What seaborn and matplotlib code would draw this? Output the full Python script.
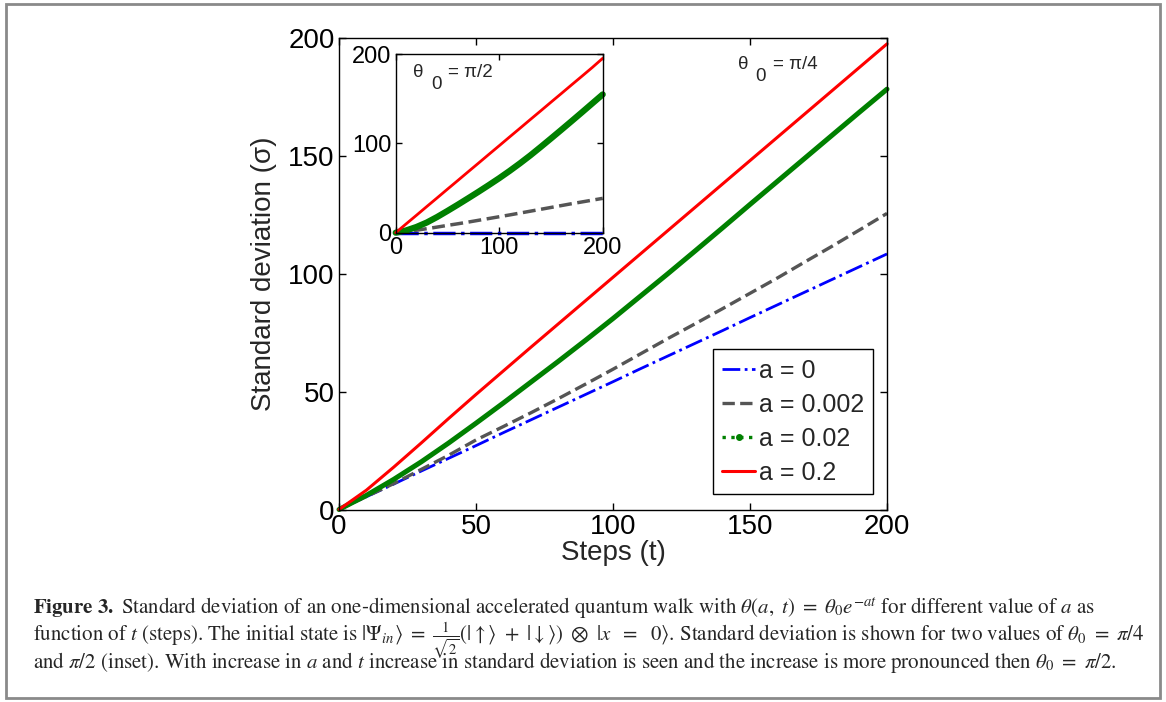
import matplotlib
matplotlib.use('Agg')
import matplotlib.pyplot as plt
import seaborn as sns
from matplotlib.lines import Line2D
from matplotlib.patches import Rectangle

# main panel, theta0 = pi/4
t_main = [0, 10, 20, 30, 40, 50, 60, 70, 80, 90, 100, 110, 120, 130, 140, 150, 160, 170, 180, 190, 200]
blue_main = [0, 5.4, 10.8, 16.3, 21.7, 27.1, 32.6, 38, 43.4, 48.8, 54.2, 59.7, 65.1, 70.5, 75.9, 81.4, 86.8, 92.2, 97.6, 103, 108.4]
gray_main = [0, 5.5, 11, 17, 23, 29.5, 35.2, 41, 47, 53.2, 59.5, 66, 72.5, 78.8, 85.2, 91.7, 98.2, 105, 111.7, 118.6, 125.6]
green_main = [0, 6, 12.8, 20.2, 28.2, 36.6, 45.2, 54, 62.8, 71.8, 81, 90.5, 100, 109.7, 119.5, 129.4, 139.2, 149, 158.8, 168.6, 178.3]
red_main = [0, 8.2, 18, 28.2, 38.6, 48.8, 58.8, 68.8, 78.7, 88.6, 98.5, 108.4, 118.3, 128.2, 138.1, 148, 157.9, 167.8, 177.7, 187.6, 197.5]

# inset, theta0 = pi/2
t_in = [0, 10, 20, 30, 40, 50, 60, 70, 80, 90, 100, 110, 120, 130, 140, 150, 160, 170, 180, 190, 200]
blue_in = [0] * 21
gray_in = [0, 1.2, 2.8, 4.5, 6.3, 8.2, 10, 11.9, 13.9, 15.9, 17.9, 19.9, 22, 24.1, 26.2, 28.3, 30.4, 32.5, 34.5, 36.5, 38.5]
green_in = [0, 2.5, 6.4, 11.4, 17.6, 24.4, 31.4, 38.6, 45.9, 53.4, 61.1, 69.2, 77.7, 86.6, 96, 105.6, 115.3, 125.1, 135, 145, 155]
red_in = [0, 9.8, 19.5, 29.3, 39, 48.8, 58.5, 68.3, 78, 87.8, 97.5, 107.3, 117, 126.8, 136.5, 146.3, 156, 165.8, 175.5, 185.3, 195.5]

labels = ['a = 0', 'a = 0.002', 'a = 0.02', 'a = 0.2']
colors = ['#0000ff', '#555555', '#008000', '#ff0000']

sns.set_style('ticks')
plt.rcParams['font.family'] = ['Liberation Sans', 'DejaVu Sans']
plt.rcParams['lines.solid_joinstyle'] = 'round'

fig = plt.figure(figsize=(11.66, 7.02), dpi=100)

# grey frame around the whole figure
fig.patches.append(Rectangle((6 / 1166, 4 / 702), 1154 / 1166, 694 / 702, transform=fig.transFigure,
                             fill=False, edgecolor='#8a8a8a', linewidth=2))


def style_axes(ax, size, ticklen):
    ax.set_xlim(0, 200)
    ax.set_ylim(0, 200)
    ax.tick_params(direction='in', top=True, right=True, length=ticklen, width=1,
                   labelsize=size, pad=3, colors='black')
    for s in ax.spines.values():
        s.set_color('black')
        s.set_linewidth(1)
    ax.set_facecolor('white')


def theta_label(ax, x, y, rest):
    # "θ", then the lowered "0", then the rest, like the MATLAB text
    ax.text(x, y, 'θ', fontsize=13.5, va='baseline')
    ax.annotate('0', xy=(x, y), xytext=(12.8, -8.6), textcoords='offset points', fontsize=13.5, va='baseline')
    ax.annotate(rest, xy=(x, y), xytext=(25.5, 0), textcoords='offset points', fontsize=13.5, va='baseline')


ax = fig.add_axes([339 / 1166, 1 - 509.5 / 702, 548 / 1166, 471.5 / 702])
sns.lineplot(x=t_main, y=blue_main, ax=ax, color=colors[0], linestyle='-.', linewidth=2, clip_on=False)
sns.lineplot(x=t_main, y=gray_main, ax=ax, color=colors[1], linestyle='--', linewidth=2.4, clip_on=False)
sns.lineplot(x=t_main, y=green_main, ax=ax, color=colors[2], linestyle='-', linewidth=3.6, clip_on=False)
sns.lineplot(x=t_main, y=red_main, ax=ax, color=colors[3], linestyle='-', linewidth=2.2, clip_on=False)
style_axes(ax, 20, 5)
ax.set_xticks([0, 50, 100, 150, 200])
ax.set_yticks([0, 50, 100, 150, 200])
ax.set_xlabel('Steps (t)', fontsize=20, labelpad=0)
ax.set_ylabel('Standard deviation (σ)', fontsize=20, labelpad=8)
theta_label(ax, 145.5, 187, '= π/4')

handles = [
    Line2D([], [], color=colors[0], linestyle='-.', linewidth=2),
    Line2D([], [], color=colors[1], linestyle='--', linewidth=2.4),
    Line2D([], [], color=colors[2], linestyle=':', linewidth=2.4, marker='o', markersize=4),
    Line2D([], [], color=colors[3], linestyle='-', linewidth=2.2),
]
leg = ax.legend(handles, labels, loc='lower right', bbox_to_anchor=(0.9745, 0.033), fontsize=18,
                frameon=True, fancybox=False, edgecolor='black', framealpha=1,
                handlelength=1.3, handletextpad=0.15, labelspacing=0.4, borderpad=0.37, borderaxespad=0)
leg.get_frame().set_linewidth(1)

# inset
axi = fig.add_axes([395.7 / 1166, 1 - 232.7 / 702, 207 / 1166, 178.4 / 702])
sns.lineplot(x=t_in, y=blue_in, ax=axi, color=colors[0], linestyle='-.', linewidth=2.5, clip_on=False)
sns.lineplot(x=t_in, y=gray_in, ax=axi, color=colors[1], linestyle='--', linewidth=2.5, clip_on=False)
sns.lineplot(x=t_in, y=green_in, ax=axi, color=colors[2], linestyle='-', linewidth=4.5, clip_on=False)
sns.lineplot(x=t_in, y=red_in, ax=axi, color=colors[3], linestyle='-', linewidth=2, clip_on=False)
style_axes(axi, 17, 4)
axi.set_xticks([0, 100, 200])
axi.set_yticks([0, 100, 200])
theta_label(axi, 16.7, 174.5, '= π/2')

# caption
cap = [
    r'$\mathbf{Figure\ 3.}$ Standard deviation of an one-dimensional accelerated quantum walk with '
    r'$\theta(a,\ t)\ =\ \theta_0 e^{-at}$ for different value of $a$ as',
    r'function of $t$ (steps). The initial state is $|\Psi_{in}\rangle\ =\ \frac{1}{\sqrt{2}}'
    r'(|\uparrow\rangle\ +\ |\downarrow\rangle)\ \otimes\ |x\ \ =\ \ 0\rangle$. '
    r'Standard deviation is shown for two values of $\theta_0\ =\ \pi/4$',
    r'and $\pi/2$ (inset). With increase in $a$ and $t$ increase in standard deviation is seen '
    r'and the increase is more pronounced then $\theta_0\ =\ \pi/2$.',
]
for i, line in enumerate(cap):
    fig.text(33 / 1166, 1 - (614 + 27 * i) / 702, line, fontsize=15, family='STIXGeneral',
             math_fontfamily='stix', va='baseline', ha='left')

fig.savefig('out.png', dpi=100)
